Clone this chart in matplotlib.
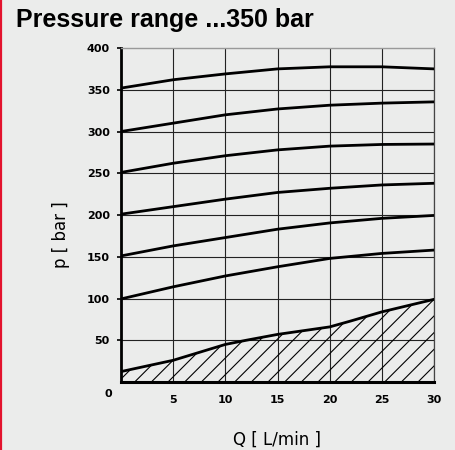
import matplotlib.pyplot as plt
import numpy as np

# flow Q [L/min] and pressure curves p [bar]
q = [0, 5, 10, 15, 20, 25, 30]
p350 = [352, 362, 369, 375, 377.5, 377.5, 375]
p300 = [300, 310, 320, 327, 331.5, 334, 335.5]
p250 = [251, 262, 271, 278, 282.5, 284.5, 285]
p200 = [201, 210, 219, 227, 232, 236, 238]
p150 = [151, 163, 173, 183, 190.5, 196, 199.5]
p100 = [99.5, 114, 127, 138, 148, 154, 158]

# lower limit curve (hatched area below it)
q_min = [0, 5, 10, 12, 15, 20, 22, 25, 30]
p_min = [12.5, 26, 45, 50, 57, 66, 73, 84, 99]

x_ticks = [5, 10, 15, 20, 25, 30]
y_ticks = [50, 100, 150, 200, 250, 300, 350, 400]

bg = '#ebeceb'
plt.rcParams['hatch.linewidth'] = 0.8

fig = plt.figure(figsize=(4.56, 4.5), dpi=100, facecolor=bg)
ax = fig.add_axes([0.2654, 0.1511, 0.6864, 0.7422])
ax.set_facecolor(bg)

# red strip on the left edge
fig.add_artist(plt.Line2D([0.003, 0.003], [0, 1], color='#e3132e', lw=1.6,
                          transform=fig.transFigure))

fig.text(0.034, 0.955, 'Pressure range ...350 bar', family='Liberation Sans',
         stretch='normal', weight='bold', fontsize=18, va='center', ha='left')

# grid
for x in x_ticks:
    ax.axvline(x, color='#222222', lw=0.8, zorder=1)
for y in y_ticks[:-1]:
    ax.axhline(y, color='#222222', lw=0.8, zorder=1)

ax.fill_between(q_min, p_min, 0, facecolor='none', edgecolor='black',
                hatch='//', lw=0, zorder=2)

for p in [p350, p300, p250, p200, p150, p100]:
    ax.plot(q, p, color='black', lw=2.0, zorder=3, solid_capstyle='butt')
ax.plot(q_min, p_min, color='black', lw=2.0, zorder=3)

ax.set_xlim(0, 30)
ax.set_ylim(0, 400)
ax.set_xticks(x_ticks)
ax.set_yticks(y_ticks)
ax.tick_params(axis='x', length=0, pad=9, labelsize=8)
ax.tick_params(axis='y', length=3, width=1.2, pad=5, labelsize=8)
for lab in ax.get_xticklabels() + ax.get_yticklabels():
    lab.set_fontweight('bold')

ax.text(-0.9, -8, '0', ha='right', va='top', fontsize=8, weight='bold')

ax.spines['left'].set_linewidth(2.0)
ax.spines['bottom'].set_linewidth(2.2)
ax.spines['top'].set_linewidth(1.0)
ax.spines['top'].set_color('#999999')
ax.spines['right'].set_linewidth(0.9)
ax.spines['right'].set_color('#444444')

fig.text(0.133, 0.478, 'p [ bar ]', rotation=90, ha='center', va='center',
         fontsize=12, weight='medium')
fig.text(0.607, 0.022, 'Q [ L/min ]', ha='center', va='center', fontsize=12,
         weight='medium')

fig.savefig('out.png', dpi=100, facecolor=bg)
